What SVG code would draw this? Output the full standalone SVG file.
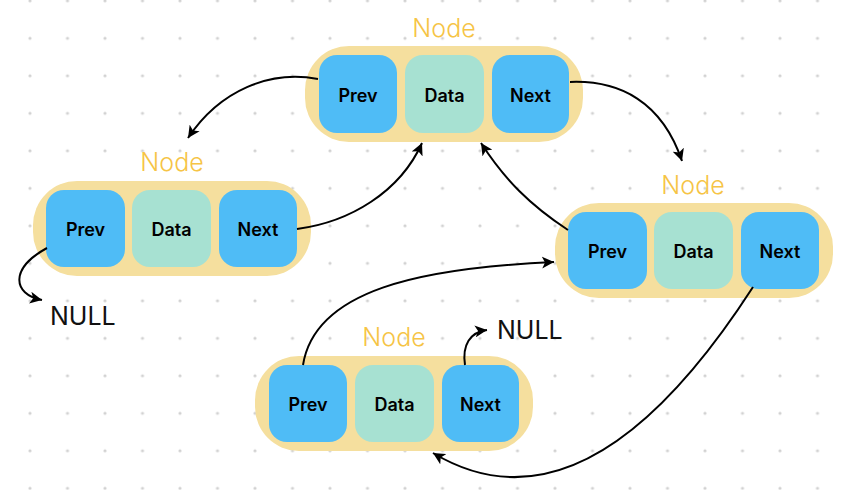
<svg xmlns="http://www.w3.org/2000/svg" width="844" height="490" viewBox="0 0 844 490">
<defs>
<pattern id="dots" x="30" y="0.8" width="37.5" height="37.5" patternUnits="userSpaceOnUse">
<circle cx="0" cy="0" r="1.6" fill="#d2d2d2"/><circle cx="37.5" cy="0" r="1.6" fill="#d2d2d2"/><circle cx="0" cy="37.5" r="1.6" fill="#d2d2d2"/><circle cx="37.5" cy="37.5" r="1.6" fill="#d2d2d2"/>
</pattern>
<marker id="arr" markerWidth="14" markerHeight="12" refX="12" refY="6" orient="auto" markerUnits="userSpaceOnUse">
<path d="M0,0 L12,6 L0,12 L3,6 Z" fill="#000"/>
</marker>
</defs>
<style>
.outer{fill:#F5DF9E}
.ptr{fill:#4FBCF6}
.data{fill:#A7E1D2}
.lbl{font-family:Inter,"Liberation Sans",Arial,sans-serif;font-size:18px;font-weight:600;fill:#000;text-anchor:middle;dominant-baseline:central}
.title{font-family:Inter,"Liberation Sans",Arial,sans-serif;font-size:25px;font-weight:300;fill:#F6C445;text-anchor:middle}
.null{font-family:Inter,"Liberation Sans",Arial,sans-serif;font-size:25px;font-weight:400;fill:#111}
.conn{fill:none;stroke:#000;stroke-width:2;marker-end:url(#arr)}
</style>
<rect x="0" y="0" width="844" height="490" fill="#fff"/>
<rect x="0" y="0" width="844" height="490" fill="url(#dots)"/>

<g id="node-top" transform="translate(305,46)">
<rect class="outer" x="0" y="0" width="278" height="96" rx="44"/>
<rect class="ptr" x="14" y="9" width="78" height="78" rx="18"/>
<rect class="data" x="100" y="9" width="79" height="78" rx="18"/>
<rect class="ptr" x="187" y="9" width="77" height="78" rx="18"/>
<text class="lbl" x="53" y="49">Prev</text>
<text class="lbl" x="139.5" y="49">Data</text>
<text class="lbl" x="225.5" y="49">Next</text>
<text class="title" x="139" y="-9">Node</text>
</g>

<g id="node-left" transform="translate(33,181)">
<rect class="outer" x="0" y="0" width="278" height="95" rx="44"/>
<rect class="ptr" x="13" y="9" width="79" height="77" rx="18"/>
<rect class="data" x="99" y="9" width="79" height="77" rx="18"/>
<rect class="ptr" x="186" y="9" width="78" height="77" rx="18"/>
<text class="lbl" x="52.5" y="48">Prev</text>
<text class="lbl" x="138.5" y="48">Data</text>
<text class="lbl" x="225" y="48">Next</text>
<text class="title" x="139" y="-10">Node</text>
</g>

<g id="node-right" transform="translate(555,203)">
<rect class="outer" x="0" y="0" width="278" height="95" rx="44"/>
<rect class="ptr" x="13" y="9" width="79" height="77" rx="18"/>
<rect class="data" x="99" y="9" width="79" height="77" rx="18"/>
<rect class="ptr" x="186" y="9" width="78" height="77" rx="18"/>
<text class="lbl" x="52.5" y="48">Prev</text>
<text class="lbl" x="138.5" y="48">Data</text>
<text class="lbl" x="225" y="48">Next</text>
<text class="title" x="138" y="-9">Node</text>
</g>

<g id="node-bottom" transform="translate(255,356)">
<rect class="outer" x="0" y="0" width="278" height="95" rx="44"/>
<rect class="ptr" x="14" y="9" width="78" height="77" rx="18"/>
<rect class="data" x="100" y="9" width="79" height="77" rx="18"/>
<rect class="ptr" x="187" y="9" width="77" height="77" rx="18"/>
<text class="lbl" x="53" y="48">Prev</text>
<text class="lbl" x="139.5" y="48">Data</text>
<text class="lbl" x="225.5" y="48">Next</text>
<text class="title" x="139" y="-10">Node</text>
</g>

<g id="null-labels">
<text class="null" x="50" y="325">NULL</text>
<text class="null" x="497" y="339">NULL</text>
</g>

<g id="connectors">
<path class="conn" d="M318 79 C270 70 220 90 188 138"/>
<path class="conn" d="M570 82 C620 80 662 102 682 161"/>
<path class="conn" d="M297 229 C350 222 400 192 422 143"/>
<path class="conn" d="M568 230 C530 205 505 180 481 143"/>
<path class="conn" d="M47 248 C10 268 12 294 42 300"/>
<path class="conn" d="M303 365 C315 290 420 268 554 262"/>
<path class="conn" d="M465 365 C462 345 470 332 487 330"/>
<path class="conn" d="M753 287 C680 400 565 532 433 453"/>
</g>
</svg>
